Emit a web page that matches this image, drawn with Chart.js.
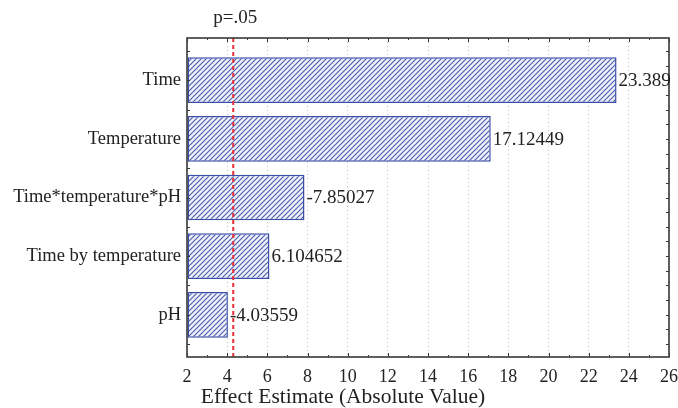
<!DOCTYPE html>
<html>
<head>
<meta charset="utf-8">
<script src="https://cdn.jsdelivr.net/npm/chart.js@4.4.1/dist/chart.umd.min.js"></script>
<style>
  html, body { margin: 0; padding: 0; background: #fff; }
  #wrap { width: 678px; height: 408px; }
</style>
</head>
<body>
<div id="wrap"><canvas id="myChart" width="678" height="408"></canvas></div>
<script>
const factors = [
    "Time",
    "Temperature",
    "Time*temperature*pH",
    "Time by temperature",
    "pH",
];
const effects = [23.389, 17.12449, 7.85027, 6.104652, 4.03559];
const effect_labels = ["23.389", "17.12449", "-7.85027", "6.104652", "-4.03559"];
const x_ticks = [2, 4, 6, 8, 10, 12, 14, 16, 18, 20, 22, 24, 26];
const p_limit = 4.303;

const serif = '"Liberation Serif", "Times New Roman", serif';
const ink = '#222';

// diagonal hatch fill like the original
function hatch(ctx) {
    const c = document.createElement('canvas');
    c.width = 5; c.height = 5;
    const g = c.getContext('2d');
    g.fillStyle = '#f0f2fa';
    g.fillRect(0, 0, 5, 5);
    g.strokeStyle = '#4e60b0';
    g.lineWidth = 1.2;
    g.beginPath();
    g.moveTo(0, 5); g.lineTo(5, 0);
    g.moveTo(-1, 1); g.lineTo(1, -1);
    g.moveTo(4, 6); g.lineTo(6, 4);
    g.stroke();
    return ctx.createPattern(c, 'repeat');
}

const frame = {
    id: 'frame',
    afterDatasetsDraw(chart) {
        const ctx = chart.ctx;
        const a = chart.chartArea;
        const xs = chart.scales.x, ys = chart.scales.y;
        ctx.save();

        // inward ticks, x major/minor on top and bottom
        ctx.strokeStyle = '#333';
        ctx.lineWidth = 1;
        ctx.beginPath();
        for (let v = xs.min; v <= xs.max; v += 1) {
            const px = Math.round(xs.getPixelForValue(v)) + 0.5;
            const len = v % 2 === 0 ? 4 : 2;
            ctx.moveTo(px, a.bottom); ctx.lineTo(px, a.bottom - len);
            ctx.moveTo(px, a.top); ctx.lineTo(px, a.top + len);
        }
        for (let v = -0.5; v <= 4.5; v += 0.5) {
            const py = Math.round(ys.getPixelForValue(v)) + 0.5;
            ctx.moveTo(a.left, py); ctx.lineTo(a.left + 3, py);
        }
        for (let v = -0.5; v <= 4.5; v += 0.25) {
            const py = Math.round(ys.getPixelForValue(v)) + 0.5;
            ctx.moveTo(a.right, py); ctx.lineTo(a.right - 3, py);
        }
        ctx.stroke();

        // p=.05 dashed line
        const px = xs.getPixelForValue(p_limit);
        ctx.strokeStyle = '#ec2c36';
        ctx.lineWidth = 2;
        ctx.setLineDash([4, 3]);
        ctx.beginPath();
        ctx.moveTo(px, a.top); ctx.lineTo(px, a.bottom);
        ctx.stroke();
        ctx.setLineDash([]);

        // frame
        ctx.strokeStyle = '#444';
        ctx.lineWidth = 1.7;
        ctx.strokeRect(a.left, a.top, a.right - a.left, a.bottom - a.top);

        ctx.fillStyle = ink;
        ctx.font = '19px ' + serif;
        ctx.textAlign = 'center';
        ctx.textBaseline = 'middle';
        ctx.fillText('p=.05', px + 2, 18);

        // axis title sits centred on the whole figure, not the plot
        ctx.font = '21.5px ' + serif;
        ctx.fillText('Effect Estimate (Absolute Value)', 343, 397);

        // value labels beside each bar
        ctx.font = '19px ' + serif;
        ctx.textAlign = 'left';
        chart.getDatasetMeta(0).data.forEach((bar, i) => {
            ctx.fillText(effect_labels[i], bar.x + 2, bar.y + 1);
        });
        ctx.restore();
    }
};

const canvas = document.getElementById('myChart');
const myChart = new Chart(canvas, {
    type: 'bar',
    data: {
        datasets: [{
            data: effects.map((v, i) => ({ x: v, y: i })),
            base: 2,
            backgroundColor: hatch(canvas.getContext('2d')),
            borderColor: '#3a4ea6',
            borderWidth: 1.5,
            borderSkipped: false,
            barPercentage: 0.78,
            categoryPercentage: 1,
        }]
    },
    options: {
        indexAxis: 'y',
        responsive: false,
        animation: false,
        layout: { padding: { top: 38, right: 0, left: 0, bottom: 0 } },
        plugins: { legend: { display: false }, tooltip: { enabled: false } },
        scales: {
            x: {
                type: 'linear',
                min: 2,
                max: 26,
                afterBuildTicks(s) { s.ticks = x_ticks.map(v => ({ value: v })); },
                afterFit(s) { s.height = 51; s.paddingRight = 9; },
                grid: { color: '#c4c4c4', lineWidth: 1, drawTicks: false },
                border: { display: false, dash: [1, 3] },
                ticks: { color: ink, font: { family: serif, size: 18 }, padding: 9, maxRotation: 0 },
            },
            y: {
                type: 'linear',
                reverse: true,
                offset: false,
                min: -0.72,
                max: 4.72,
                afterBuildTicks(s) { s.ticks = factors.map((f, i) => ({ value: i })); },
                afterFit(s) { s.width = 187; },
                grid: { display: false, drawTicks: false },
                border: { display: false },
                ticks: {
                    color: ink,
                    font: { family: serif, size: 18.5 },
                    padding: 6,
                    callback: v => factors[v],
                },
            },
        },
    },
    plugins: [frame],
});
</script>
</body>
</html>
